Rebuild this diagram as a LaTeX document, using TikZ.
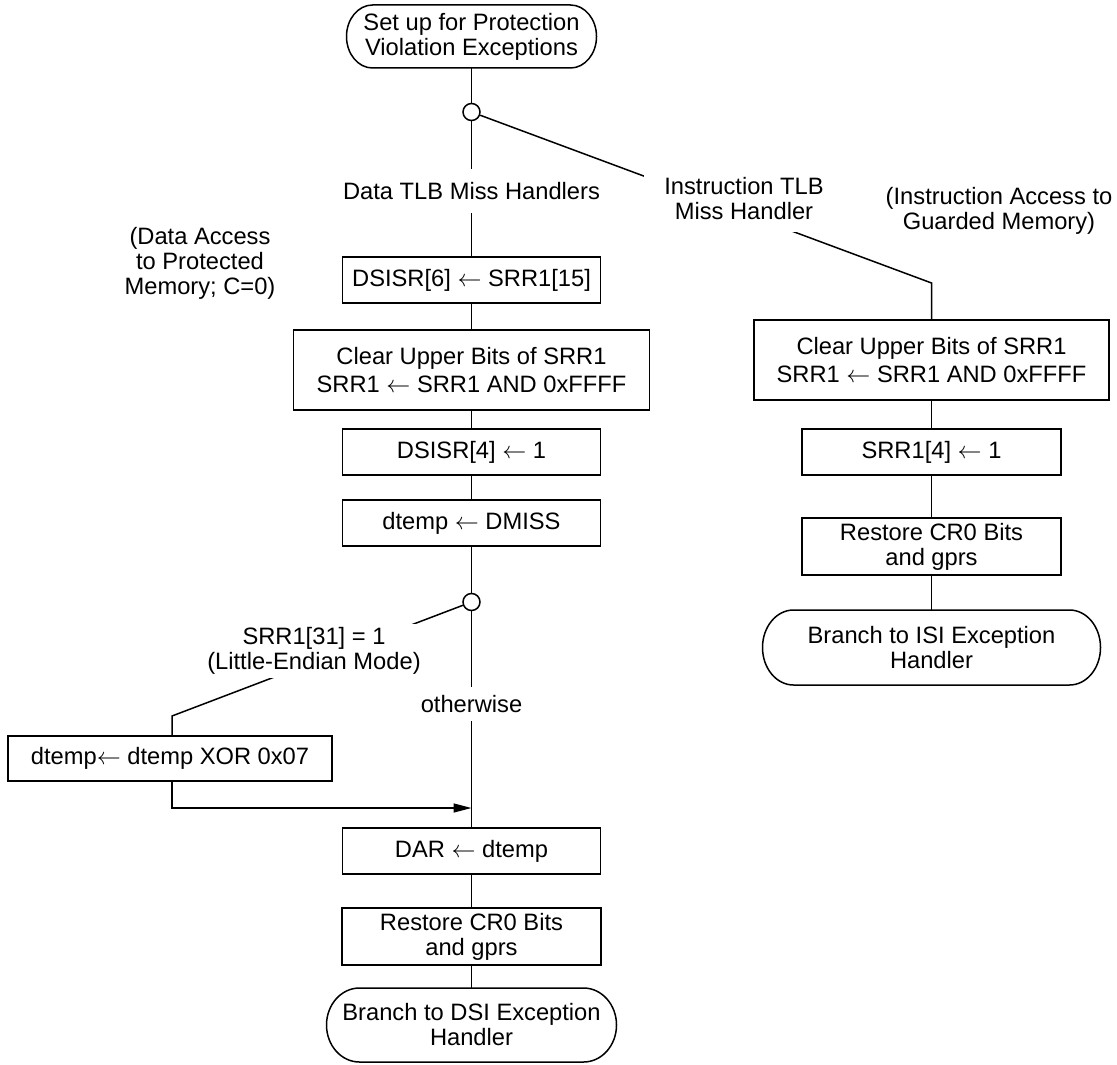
\documentclass[tikz,border=0pt]{standalone}
\usepackage{fontspec}
\setmainfont{Liberation Sans}
\usetikzlibrary{arrows.meta}
\newcommand\termoutline[3]{%
  \draw ([xshift=#2]#1.north west) -- ([xshift=-#2]#1.north east)
    arc[start angle=90,end angle=-90,x radius=#2,y radius=#3]
    -- ([xshift=#2]#1.south west)
    arc[start angle=270,end angle=90,x radius=#2,y radius=#3] -- cycle;}
\begin{document}
\begin{tikzpicture}[x=0.5pt,y=-0.5pt,line width=0.75pt,
  every node/.style={font=\fontsize{11.85pt}{12.5pt}\selectfont, align=center},
  box/.style={draw, rectangle, inner sep=0pt},
  term/.style={rectangle, inner sep=0pt, outer sep=0pt},
  dot/.style={circle, draw, fill=white, inner sep=0pt, minimum size=8.5pt},
  lbl/.style={inner sep=0pt},
  tip/.style={-{Triangle[length=9pt,width=4.5pt]}}]
\useasboundingbox (0,0) rectangle (1117,1064);

% left column
\node[term, minimum width=125pt, minimum height=31.5pt] (start) at (471.5,36.5) {Set up for Protection\\Violation Exceptions};
\node[dot] (c1) at (471.5,112) {};
\node[lbl, minimum height=21.5pt] (ldata) at (471.5,191) {Data TLB Miss Handlers};
\node[lbl] (ndata) at (200,263) {(Data Access\\to Protected\\Memory; C=0)};
\node[box, minimum width=129pt, minimum height=23pt] (dsisr6) at (471.5,280) {DSISR[6] $\leftarrow$ SRR1[15]};
\node[box, minimum width=178pt, minimum height=40pt] (clrL) at (471.5,370) {Clear Upper Bits of SRR1\\[1.5pt]SRR1 $\leftarrow$ SRR1 AND 0xFFFF};
\node[box, minimum width=129pt, minimum height=23pt] (dsisr4) at (471.5,452) {DSISR[4] $\leftarrow$ 1};
\node[box, minimum width=129pt, minimum height=23pt] (dtemp) at (471.5,523) {dtemp $\leftarrow$ DMISS};
\node[dot] (c2) at (471.5,602) {};
\node[lbl, minimum height=16.5pt] (lother) at (471.5,704) {otherwise};
\coordinate (k1) at (172,716);
\node[box, minimum width=162pt, minimum height=22.5pt] (xor) at (170,758.5) {dtemp$\leftarrow$ dtemp XOR 0x07};
\coordinate (m) at (471.5,808);
\node[box, minimum width=129pt, minimum height=23pt] (dar) at (471.5,851) {DAR $\leftarrow$ dtemp};
\node[box, minimum width=129.5pt, minimum height=28.5pt] (restL) at (471.5,936.5) {Restore CR0 Bits\\and gprs};
\node[term, minimum width=145pt, minimum height=37pt] (endL) at (471.5,1025) {Branch to DSI Exception\\Handler};

% right column
\coordinate (k2) at (931.5,283);
\node[lbl] (ninst) at (999,211) {(Instruction Access to\\Guarded Memory)};
\node[box, minimum width=177.5pt, minimum height=40pt] (clrR) at (931.5,360) {Clear Upper Bits of SRR1\\[1.5pt]SRR1 $\leftarrow$ SRR1 AND 0xFFFF};
\node[box, minimum width=129.5pt, minimum height=23pt] (srr4) at (931.5,452) {SRR1[4] $\leftarrow$ 1};
\node[box, minimum width=129.5pt, minimum height=28.5pt] (restR) at (931.5,546.5) {Restore CR0 Bits\\and gprs};
\node[term, minimum width=169pt, minimum height=37.5pt] (endR) at (931.5,647.5) {Branch to ISI Exception\\Handler};

% terminal outlines
\termoutline{start}{13pt}{15.75pt}
\termoutline{endL}{16.5pt}{18.5pt}
\termoutline{endR}{15.5pt}{18.75pt}

% connectors
\foreach \a/\b in {start/c1, c1/ldata, ldata/dsisr6, dsisr6/clrL, clrL/dsisr4,
  dsisr4/dtemp, dtemp/c2, c2/lother, lother/dar, dar/restL, restL/endL,
  clrR/srr4, srr4/restR, restR/endR}
  \draw (\a) -- (\b);
\draw (c1) -- (k2) -- (clrR);
\draw (c2) -- (k1) -- (xor.north -| k1);
\draw[tip] (xor.south -| k1) |- (m);

% labels that interrupt diagonal connectors
\node[lbl, fill=white, minimum width=100pt, minimum height=33pt] (linst) at (744,199) {Instruction TLB\\Miss Handler};
\node[lbl, fill=white, minimum width=110pt, minimum height=27pt] (lle) at (314,651) {SRR1[31] = 1\\(Little-Endian Mode)};
\end{tikzpicture}
\end{document}
